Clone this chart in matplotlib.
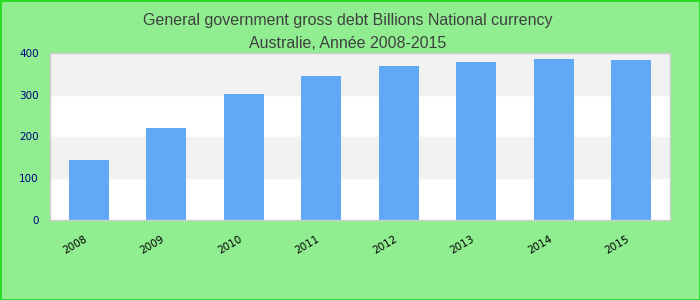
import matplotlib
matplotlib.use("Agg")
import matplotlib.pyplot as plt
from matplotlib.patches import Rectangle

years = ["2008", "2009", "2010", "2011", "2012", "2013", "2014", "2015"]
values = [144, 221, 301, 346, 369, 379, 386, 384]
yticks = [0, 100, 200, 300, 400]
title = "General government gross debt Billions National currency\nAustralie, Année 2008-2015"

fig = plt.figure(figsize=(7, 3), dpi=100, facecolor="#90ee90")
fig.patches.append(Rectangle((0, 0), 1, 1, transform=fig.transFigure, fill=False,
                             edgecolor="#22dd22", linewidth=2))
ax = fig.add_axes([50/700, 80/300, 620/700, 167/300])
ax.set_facecolor("white")
for i in range(len(yticks) - 1):
    if i % 2 == 1:
        ax.axhspan(yticks[i], yticks[i+1], color="#f2f2f2", zorder=0)
x = list(range(len(years)))
ax.bar(x, values, width=0.52, color="#62a9f5", zorder=2)
ax.set_xlim(-0.5, len(years) - 0.5)
ax.set_ylim(0, 400)
ax.set_yticks(yticks)
ax.set_yticklabels([str(t) for t in yticks], color="#000080", fontsize=7.5)
ax.set_xticks(x)
ax.set_xticklabels(years, rotation=30, ha="right", fontsize=7.5, color="black")
ax.tick_params(length=0, pad=8)
ax.tick_params(axis="x", pad=10)
for s in ax.spines.values():
    s.set_color("#cccccc")
    s.set_linewidth(1)
fig.text(0.497, 0.955, title, ha="center", va="top", fontsize=11.5, color="#404040",
         family="Liberation Sans", linespacing=1.6)
fig.savefig("out.png", dpi=100, facecolor=fig.get_facecolor())
